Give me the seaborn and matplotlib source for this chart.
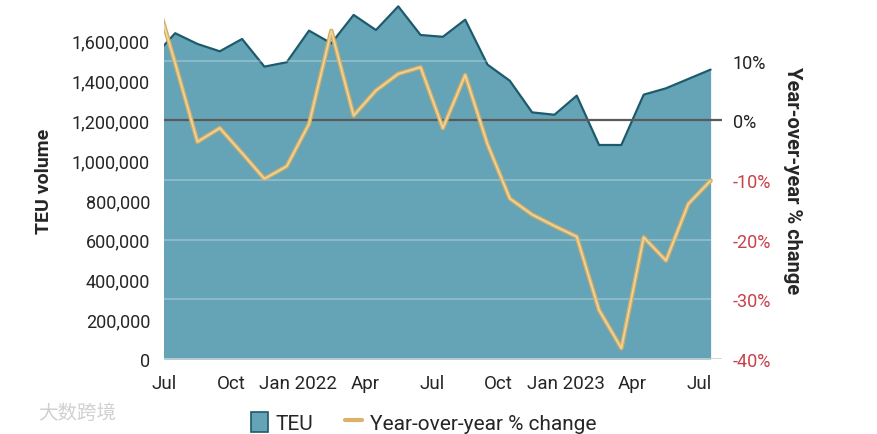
import numpy as np
import pandas as pd
import matplotlib
matplotlib.use("Agg")
import matplotlib.pyplot as plt
import matplotlib.patheffects as pe
from matplotlib.patches import Patch
from matplotlib.lines import Line2D
import seaborn as sns

# monthly values (the Jun 2021 point only shows as the clipped left edge)
months = ["2021-06", "2021-07", "2021-08", "2021-09", "2021-10", "2021-11", "2021-12",
          "2022-01", "2022-02", "2022-03", "2022-04", "2022-05", "2022-06",
          "2022-07", "2022-08", "2022-09", "2022-10", "2022-11", "2022-12",
          "2023-01", "2023-02", "2023-03", "2023-04", "2023-05", "2023-06", "2023-07"]
teu = [1515000, 1638000, 1584000, 1547000, 1609000, 1470000, 1492000,
       1651000, 1587000, 1730000, 1654000, 1773000, 1629000,
       1620000, 1706000, 1480000, 1399000, 1240000, 1228000,
       1324000, 1076000, 1076000, 1329000, 1361000, 1408000, 1455000]
yoy = [22.3, 9.6, -3.6, -1.3, -5.5, -9.8, -7.7,
       -0.6, 15.0, 0.8, 5.0, 7.8, 8.9,
       -1.3, 7.6, -4.0, -13.1, -15.8, -17.7,
       -19.5, -31.8, -38.2, -19.6, -23.5, -14.0, -10.1]

tick_labels = ["Jul", "Oct", "Jan 2022", "Apr", "Jul", "Oct", "Jan 2023", "Apr", "Jul"]
left_ticks = [0, 200000, 400000, 600000, 800000, 1000000, 1200000, 1400000, 1600000]
right_ticks = [-40, -30, -20, -10, 0, 10]

FILL = "#64a4b6"
EDGE = "#1d5a6c"
ORANGE = "#dcb26a"
RED = "#c8414b"

sns.set_theme(style="white")
plt.rcParams["font.family"] = ["Roboto", "DejaVu Sans"]
NARROW = ["Liberation Sans Narrow", "Roboto", "DejaVu Sans"]

start = pd.Period("2021-07", freq="M")
df = pd.DataFrame({"month": pd.PeriodIndex(months, freq="M"), "teu": teu, "yoy": yoy})
df["x"] = [(p - start).n + 0.5 for p in df["month"]]

fig = plt.figure(figsize=(8.77, 4.35), dpi=100)
ax = fig.add_axes([0.187, 0.1724, 0.636, 0.823])
ax2 = ax.twinx()

# TEU area
ax.fill_between(df["x"], 0, df["teu"], color=FILL, lw=0, zorder=1)
sns.lineplot(data=df, x="x", y="teu", ax=ax, color=EDGE, lw=1.6, zorder=2)

ax.set_xlim(0, 25)
ax.set_ylim(0, 1800000)
ax.set_yticks(left_ticks)
ax.set_yticklabels([f"{v:,.0f}" for v in left_ticks], fontsize=13)
ax.set_xticks([0, 3, 6, 9, 12, 15, 18, 21, 24])
ax.set_xticklabels(tick_labels, fontsize=13.5, family=NARROW)
ax.tick_params(axis="x", length=0, pad=11)
ax.tick_params(axis="y", length=0, pad=10)
ax.set_xlabel("")
ax.set_ylabel("TEU volume", fontsize=14, fontweight="bold", labelpad=14)

# YoY line on right axis
ax2.set_ylim(-40, 20)
ax2.set_yticks(right_ticks)
ax2.set_yticklabels([f"{v}%" for v in right_ticks], fontsize=13)
for lab, v in zip(ax2.get_yticklabels(), right_ticks):
    lab.set_color(RED if v < 0 else "#222222")
ax2.tick_params(axis="y", length=0, pad=8)
for v in [10, -10, -20, -30]:
    ax2.axhline(v, color="white", alpha=0.3, lw=1.2, zorder=1)
ax2.axhline(0, color="#5a5a5a", lw=1.6, zorder=2)
ax2.axhline(-40, color="#cfcfcf", lw=1.2, zorder=2)
sns.lineplot(data=df, x="x", y="yoy", ax=ax2, color="#ecd49c", lw=1.3, zorder=3,
             path_effects=[pe.Stroke(linewidth=3.2, foreground="#d4ac64"), pe.Normal()])
ax2.set_xlabel("")
ax2.set_ylabel("Year-over-year % change", fontsize=14.5, fontweight="bold",
               rotation=270, labelpad=22)

for a in (ax, ax2):
    for s in a.spines.values():
        s.set_visible(False)

handles = [Patch(facecolor=FILL, edgecolor=EDGE, lw=1.2),
           Line2D([0], [0], color=ORANGE, lw=3)]
fig.legend(handles, ["TEU", "Year-over-year % change"], loc="center",
           bbox_to_anchor=(0.483, 0.027), ncol=2, frameon=False,
           prop={"family": NARROW, "size": 15}, handlelength=0.8, handleheight=1.1,
           columnspacing=1.5, handletextpad=0.4)

fig.text(0.088, 0.05, "大数跨境", fontsize=14, color="#d0d0d0", ha="center", va="center",
         family=["Noto Sans CJK SC", "DejaVu Sans"])

fig.savefig("out.png", dpi=100)
